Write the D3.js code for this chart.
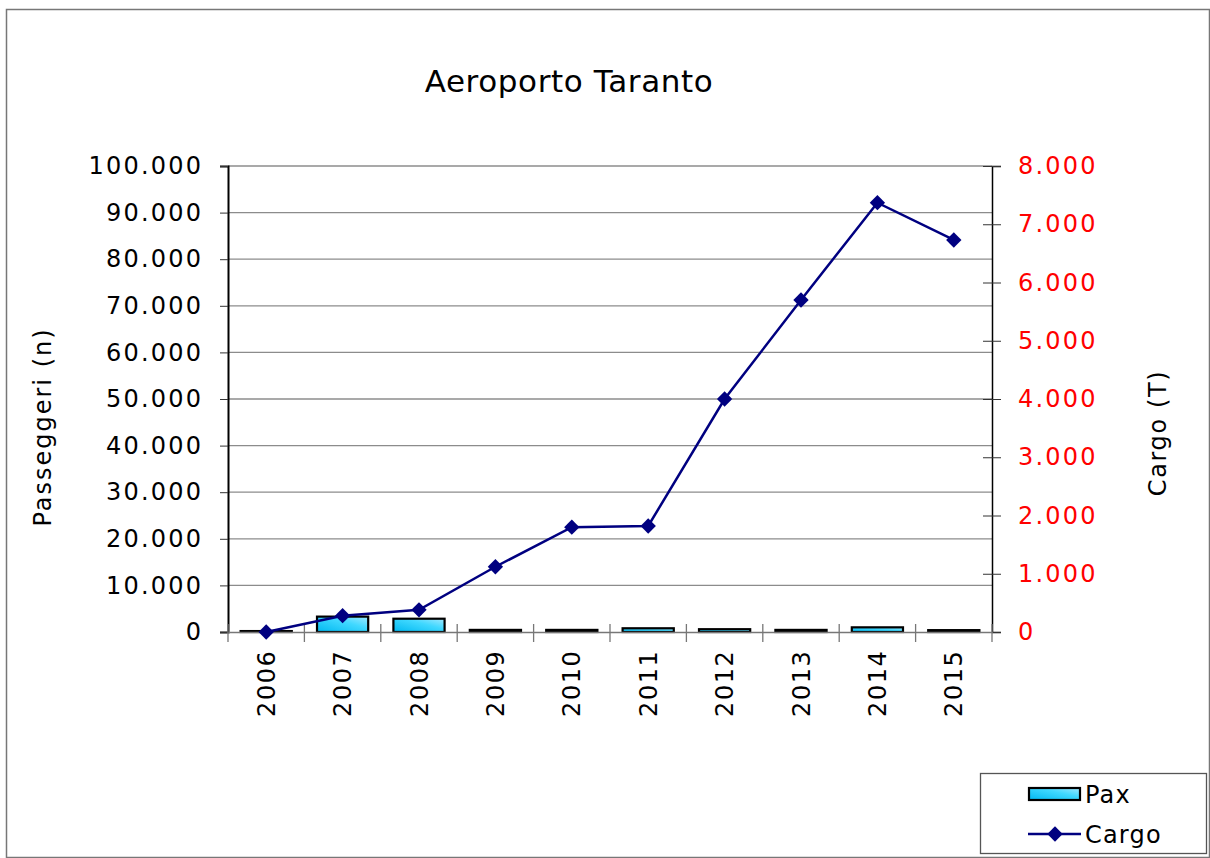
<!DOCTYPE html>
<html><head><meta charset="utf-8">
<script src="https://cdn.jsdelivr.net/npm/d3@7"></script>
<style>body{margin:0;background:#fff}svg text{font-family:"DejaVu Sans",Verdana,sans-serif}</style>
</head><body>
<svg id="c" width="1210" height="858"></svg>
<script>
const years = ["2006","2007","2008","2009","2010","2011","2012","2013","2014","2015"];
const pax = [200, 3300, 2850, 450, 450, 800, 600, 450, 1000, 400];
const cargo = [0, 280, 380, 1120, 1800, 1820, 4000, 5700, 7370, 6730];
const leftTicks = [0,10000,20000,30000,40000,50000,60000,70000,80000,90000,100000];
const rightTicks = [0,1000,2000,3000,4000,5000,6000,7000,8000];
const fmt = v => v === 0 ? "0" : d3.format(",")(v).replace(/,/g, ".");

const svg = d3.select("#c");
const L = 228, R = 992, T = 166, B = 632;
const LS = 2.2;

const defs = svg.append("defs");
const g = defs.append("linearGradient").attr("id","pg").attr("x1","0").attr("y1","1").attr("x2","1").attr("y2","0");
g.append("stop").attr("offset","0").attr("stop-color","#00b8f0");
g.append("stop").attr("offset","0.6").attr("stop-color","#40d8ff");
g.append("stop").attr("offset","1").attr("stop-color","#a0e8ff");

svg.append("rect").attr("x",6.5).attr("y",9.5).attr("width",1203).attr("height",848)
  .attr("fill","#fff").attr("stroke","#777").attr("stroke-width",1.5);

const x = d3.scaleBand().domain(years).range([L,R]).paddingInner(0.33).paddingOuter(0.165);
const xb = d3.scaleBand().domain(years).range([L,R]);
const yL = d3.scaleLinear().domain([0,100000]).range([B,T]);
const yR = d3.scaleLinear().domain([0,8000]).range([B,T]);

// gridlines
svg.append("g").selectAll("line").data(leftTicks.slice(1)).join("line")
  .attr("x1",L).attr("x2",R).attr("y1",d=>yL(d)).attr("y2",d=>yL(d))
  .attr("stroke","#8c8c8c").attr("stroke-width",1.3);

// left axis
const ax = svg.append("g").attr("transform",`translate(${L},0)`)
  .call(d3.axisLeft(yL).tickValues(leftTicks).tickFormat(fmt).tickSize(8).tickPadding(12));
ax.select(".domain").attr("stroke","#000").attr("stroke-width",2);
ax.selectAll(".tick line").attr("stroke","#333");
ax.selectAll("text").attr("font-size",24).attr("fill","#000").attr("letter-spacing",LS)
  .attr("x",-27+LS);

// right axis
const ar = svg.append("g").attr("transform",`translate(${R},0)`)
  .call(d3.axisRight(yR).tickValues(rightTicks).tickFormat(fmt).tickSize(9).tickPadding(17));
ar.select(".domain").attr("stroke","#000").attr("stroke-width",1.5);
ar.selectAll(".tick line").attr("stroke","#333").attr("x1",-9);
ar.selectAll("text").attr("font-size",24).attr("fill","#ff0000").attr("letter-spacing",LS);

// bars
svg.append("g").selectAll("rect").data(years).join("rect")
  .attr("x",d=>x(d)).attr("width",x.bandwidth())
  .attr("y",(d,i)=>yL(pax[i])).attr("height",(d,i)=>B-yL(pax[i]))
  .attr("fill","url(#pg)").attr("stroke","#000").attr("stroke-width",2.2);

// bottom axis
const abx = svg.append("g").attr("transform",`translate(0,${B})`)
  .call(d3.axisBottom(xb).tickSize(0).tickPadding(0));
abx.select(".domain").attr("stroke","#777").attr("stroke-width",1.5);
abx.selectAll("text").attr("font-size",24).attr("fill","#000").attr("letter-spacing",1.6)
  .attr("transform","rotate(-90)").attr("text-anchor","end")
  .attr("x",-17.5).attr("y",0).attr("dy","0.36em");
svg.append("g").selectAll("line").data(years.concat(["end"])).join("line")
  .attr("x1",(d,i)=>L+i*xb.step()).attr("x2",(d,i)=>L+i*xb.step())
  .attr("y1",B-8).attr("y2",B+10).attr("stroke","#777").attr("stroke-width",1.3);

// cargo line
const line = d3.line().x((d,i)=>xb(years[i])+xb.bandwidth()/2).y(d=>yR(d));
svg.append("path").datum(cargo).attr("d",line).attr("fill","none")
  .attr("stroke","#000080").attr("stroke-width",2.5);
const diamond = d3.symbol().type(d3.symbolDiamond2).size(150);
svg.append("g").selectAll("path").data(cargo).join("path")
  .attr("d",diamond).attr("fill","#000080")
  .attr("transform",(d,i)=>`translate(${xb(years[i])+xb.bandwidth()/2},${yR(d)})`);

// titles
svg.append("text").attr("x",569).attr("y",92).attr("text-anchor","middle")
  .attr("font-size",31).attr("letter-spacing",0.6).text("Aeroporto Taranto");
svg.append("text").attr("transform","translate(51,427) rotate(-90)").attr("text-anchor","middle")
  .attr("font-size",24).attr("letter-spacing",2).text("Passeggeri (n)");
svg.append("text").attr("transform","translate(1166,433) rotate(-90)").attr("text-anchor","middle")
  .attr("font-size",24).attr("letter-spacing",1.6).text("Cargo (T)");

// legend
const lg = svg.append("g");
lg.append("rect").attr("x",980.5).attr("y",773.5).attr("width",226).attr("height",80)
  .attr("fill","#fff").attr("stroke","#555").attr("stroke-width",1.3);
lg.append("rect").attr("x",1029).attr("y",788).attr("width",51).attr("height",12)
  .attr("fill","url(#pg)").attr("stroke","#000").attr("stroke-width",2.2);
lg.append("text").attr("x",1085).attr("y",803).attr("font-size",24).attr("letter-spacing",1.2).text("Pax");
lg.append("line").attr("x1",1028).attr("x2",1081).attr("y1",834).attr("y2",834)
  .attr("stroke","#000080").attr("stroke-width",2.5);
lg.append("path").attr("d",diamond).attr("fill","#000080").attr("transform","translate(1055,834)");
lg.append("text").attr("x",1085).attr("y",843).attr("font-size",24).attr("letter-spacing",1.2).text("Cargo");
</script>
</body></html>
